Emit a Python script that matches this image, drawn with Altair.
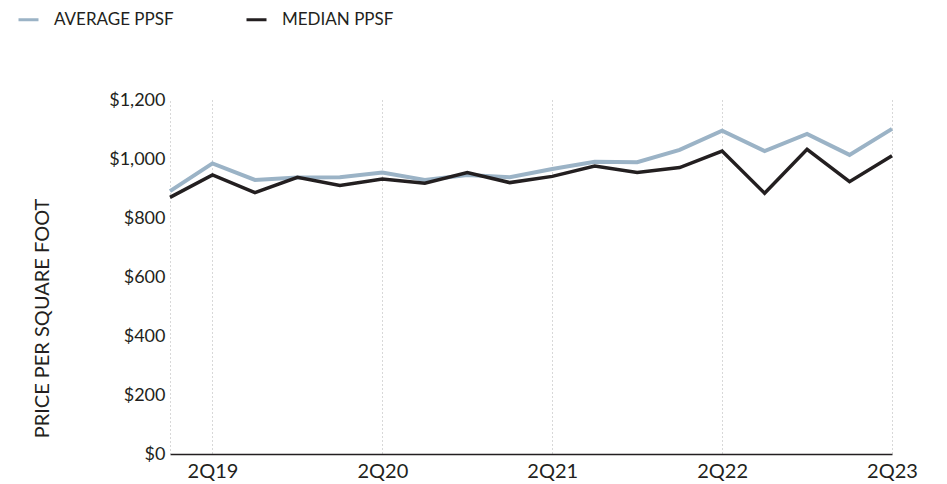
import altair as alt
import pandas as pd

quarters = ["1Q19", "2Q19", "3Q19", "4Q19", "1Q20", "2Q20", "3Q20", "4Q20",
            "1Q21", "2Q21", "3Q21", "4Q21", "1Q22", "2Q22", "3Q22", "4Q22",
            "1Q23", "2Q23"]
average_ppsf = [891, 985, 929, 937, 938, 954, 929, 946, 938, 966,
                991, 989, 1031, 1096, 1027, 1085, 1014, 1102]
median_ppsf = [870, 946, 886, 938, 910, 932, 918, 954, 920, 941,
               976, 954, 971, 1027, 884, 1033, 923, 1011]
series_names = ["AVERAGE PPSF", "MEDIAN PPSF"]
tick_quarters = ["2Q19", "2Q20", "2Q21", "2Q22", "2Q23"]
y_ticks = [0, 200, 400, 600, 800, 1000, 1200]

AVG_COLOR = "#9bb3c6"
MED_COLOR = "#231f20"
TEXT = "#231f20"
FONT = "Lato"

rows = []
for q, a, m in zip(quarters, average_ppsf, median_ppsf):
    rows.append({"quarter": q, "series": series_names[0], "value": a})
    rows.append({"quarter": q, "series": series_names[1], "value": m})
df = pd.DataFrame(rows)

x_enc = alt.X(
    "quarter:O",
    sort=quarters,
    scale=alt.Scale(type="point", padding=0),
    axis=alt.Axis(
        values=tick_quarters, labelAngle=0, grid=True, gridDash=[1, 3],
        gridColor="#b0b0b0", gridWidth=1, ticks=False, domainColor=TEXT,
        domainWidth=1.5, labelFontSize=20, labelPadding=7, labelColor=TEXT,
        labelFont=FONT, title=None,
    ),
)
y_enc = alt.Y(
    "value:Q",
    scale=alt.Scale(domain=[0, 1200], nice=False),
    axis=alt.Axis(
        values=y_ticks, format="$,.0f", grid=False, ticks=False,
        domainDash=[1, 3], domainColor="#b0b0b0", domainWidth=1,
        labelPadding=5, labelFontSize=18, labelColor=TEXT, labelFont=FONT,
        title="PRICE PER SQUARE FOOT", titleX=-128, titleY=218,
        titleAngle=270, titleAlign="center", titleBaseline="middle",
        titleFontSize=20, titleFontWeight="normal", titleColor=TEXT,
        titleFont=FONT,
    ),
)
color_enc = alt.Color(
    "series:N",
    scale=alt.Scale(domain=series_names, range=[AVG_COLOR, MED_COLOR]),
    legend=alt.Legend(
        orient="none", legendX=-153, legendY=-92, direction="horizontal",
        title=None, symbolType="stroke", symbolSize=400, symbolStrokeWidth=3,
        labelFontSize=17, labelOffset=14, columnPadding=66, labelColor=TEXT,
        labelFont=FONT,
    ),
)

base = alt.Chart(df)
avg_line = base.transform_filter(
    alt.datum.series == series_names[0]
).mark_line(strokeWidth=4).encode(x=x_enc, y=y_enc, color=color_enc)
med_line = base.transform_filter(
    alt.datum.series == series_names[1]
).mark_line(strokeWidth=3.5).encode(x=x_enc, y=y_enc, color=color_enc)

chart = (
    alt.layer(avg_line, med_line)
    .properties(
        width=722, height=354,
        padding={"left": 162, "top": 92, "right": 45, "bottom": 30},
        autosize=alt.AutoSizeParams(type="none"),
    )
    .configure_view(stroke=None)
)

chart.save("out.html", embed_options={"renderer": "svg", "actions": False})
